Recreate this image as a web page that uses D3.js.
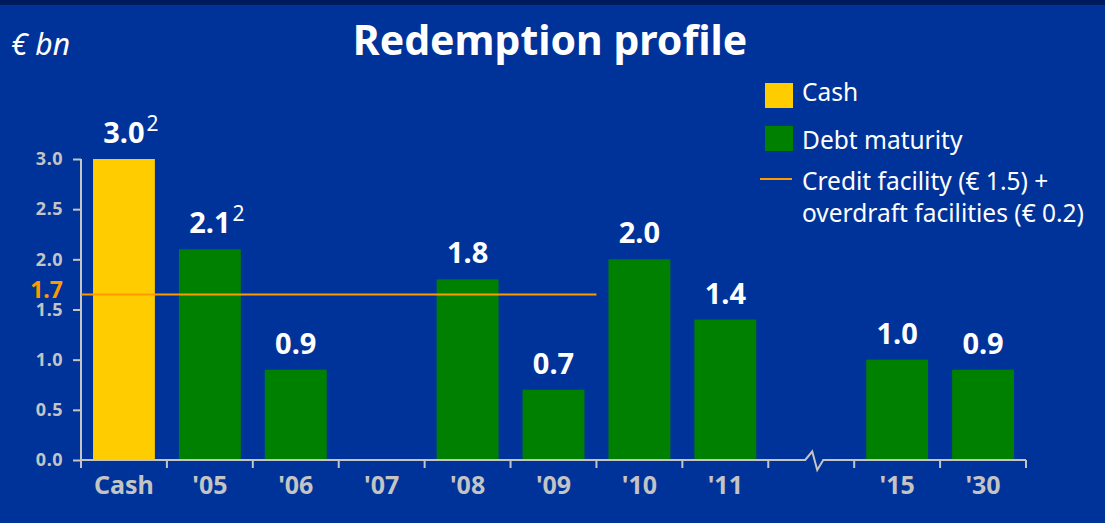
<!DOCTYPE html>
<html>
<head>
<meta charset="utf-8">
<script src="https://cdn.jsdelivr.net/npm/d3@7"></script>
<style>
  html, body { margin: 0; padding: 0; background: #003399; }
  svg { display: block; font-family: "Noto Sans", sans-serif; }
</style>
</head>
<body>
<svg id="chart"></svg>
<script>
// categories on the x axis ("gap" is the broken part of the axis)
const categories = ["Cash", "'05", "'06", "'07", "'08", "'09", "'10", "'11", "gap", "'15", "'30"];
const values = [3.0, 2.1, 0.9, null, 1.8, 0.7, 2.0, 1.4, null, 1.0, 0.9];
const seriesKind = ["cash", "debt", "debt", "debt", "debt", "debt", "debt", "debt", null, "debt", "debt"];
const footnotes = ["2", "2", "", "", "", "", "", "", "", "", ""];
const yTicks = [0, 0.5, 1.0, 1.5, 2.0, 2.5, 3.0];

// credit + overdraft facility line (drawn through the '09 column)
const facilityValue = 1.65;
const facilityLabel = "1.7";
const facilityEnd = "'10";

const legendLabels = ["Cash", "Debt maturity", "Credit facility (€ 1.5) +|overdraft facilities (€ 0.2)"];

const colors = {
  bg: "#003399",
  strip: "#001a5e",
  cash: "#ffcc00",
  debt: "#008000",
  facility: "#ff9900",
  axis: "#c4c4c4",
  text: "#ffffff"
};

const W = 1105, H = 523;
const svg = d3.select("#chart").attr("width", W).attr("height", H);

svg.append("rect").attr("width", W).attr("height", H).attr("fill", colors.bg);
svg.append("rect").attr("width", W).attr("height", 5).attr("fill", colors.strip);

// title + unit
svg.append("text")
  .attr("x", 550).attr("y", 55)
  .attr("text-anchor", "middle")
  .attr("font-size", 41).attr("font-weight", "bold")
  .attr("fill", colors.text)
  .text("Redemption profile");

svg.append("text")
  .attr("x", 11).attr("y", 55)
  .attr("font-size", 30).attr("font-style", "italic")
  .attr("fill", colors.text)
  .text("€ bn");

const x = d3.scaleBand()
  .domain(categories)
  .range([81, 1026])
  .paddingInner(0.28)
  .paddingOuter(0.14);

const y = d3.scaleLinear().domain([0, 3]).range([460, 159]);

const data = categories.map((c, i) => ({
  cat: c, value: values[i], kind: seriesKind[i], note: footnotes[i]
})).filter(d => d.value != null);

// bars
svg.append("g")
  .selectAll("rect")
  .data(data)
  .join("rect")
  .attr("x", d => x(d.cat))
  .attr("y", d => y(d.value))
  .attr("width", x.bandwidth())
  .attr("height", d => y(0) - y(d.value))
  .attr("fill", d => colors[d.kind]);

// value labels
const labels = svg.append("g")
  .selectAll("g")
  .data(data)
  .join("g");

labels.append("text")
  .attr("class", "val")
  .attr("x", d => x(d.cat) + x.bandwidth() / 2)
  .attr("y", d => y(d.value) - 16)
  .attr("text-anchor", "middle")
  .attr("font-size", 29).attr("font-weight", "bold")
  .attr("fill", colors.text)
  .text(d => d3.format(".1f")(d.value));

labels.filter(d => d.note)
  .append("text")
  .attr("x", function (d) {
    const w = this.parentNode.querySelector(".val").getComputedTextLength();
    return x(d.cat) + x.bandwidth() / 2 + w / 2 + 2;
  })
  .attr("y", d => y(d.value) - 28)
  .attr("font-size", 21)
  .attr("fill", colors.text)
  .text(d => d.note);

// y axis
const yAxis = svg.append("g")
  .attr("transform", "translate(81,0)")
  .call(d3.axisLeft(y).tickValues(yTicks).tickFormat(d3.format(".1f")).tickSize(8).tickPadding(10));
yAxis.select(".domain").remove();
yAxis.selectAll(".tick line").attr("stroke", colors.axis).attr("stroke-width", 2);
yAxis.selectAll(".tick text")
  .attr("fill", colors.axis)
  .attr("font-size", 18).attr("font-weight", "bold")
  .attr("font-family", "Noto Sans, sans-serif")
  .attr("letter-spacing", 0.5);

svg.append("line")
  .attr("x1", 81).attr("x2", 81)
  .attr("y1", y(3)).attr("y2", y(0) + 8)
  .attr("stroke", colors.axis).attr("stroke-width", 2);

// x axis: labels at band centres, ticks at band edges, zigzag break in the gap
const step = x.step();
const x0 = x.range()[0];
const edges = d3.range(categories.length + 1).map(i => x0 + i * step);

const xAxis = svg.append("g")
  .attr("transform", `translate(0,${y(0)})`)
  .call(d3.axisBottom(x).tickSize(0).tickPadding(16).tickFormat(d => d === "gap" ? "" : d));
xAxis.select(".domain").remove();
xAxis.selectAll(".tick text")
  .attr("fill", colors.axis)
  .attr("font-size", 25).attr("font-weight", "bold")
  .attr("font-family", "Noto Sans, sans-serif");

const gapMid = x("gap") + x.bandwidth() / 2 + 3;
const axisPath = d3.path();
axisPath.moveTo(x0, y(0));
axisPath.lineTo(gapMid - 9, y(0));
axisPath.lineTo(gapMid - 2, y(0) - 8.5);
axisPath.lineTo(gapMid + 3, y(0) + 10);
axisPath.lineTo(gapMid + 9, y(0));
axisPath.lineTo(edges[edges.length - 1], y(0));
svg.append("path")
  .attr("d", axisPath.toString())
  .attr("fill", "none")
  .attr("stroke", colors.axis).attr("stroke-width", 2)
  .attr("stroke-linejoin", "miter");

svg.append("g")
  .selectAll("line")
  .data(edges.slice(1))
  .join("line")
  .attr("x1", d => d).attr("x2", d => d)
  .attr("y1", y(0)).attr("y2", y(0) + 8)
  .attr("stroke", colors.axis).attr("stroke-width", 2);

// facility line
svg.append("line")
  .attr("x1", x0)
  .attr("x2", x(facilityEnd) - step * x.paddingInner() / 2)
  .attr("y1", y(facilityValue)).attr("y2", y(facilityValue))
  .attr("stroke", colors.facility).attr("stroke-width", 2);

svg.append("text")
  .attr("x", 63).attr("y", y(facilityValue) + 4)
  .attr("text-anchor", "end")
  .attr("font-size", 23).attr("font-weight", "bold")
  .attr("fill", colors.facility)
  .text(facilityLabel);

// legend
const legend = svg.append("g").attr("transform", "translate(765,0)");
const legendY = [101, 149, 190];

legend.append("rect").attr("x", 0).attr("y", 83).attr("width", 28).attr("height", 25).attr("fill", colors.cash);
legend.append("rect").attr("x", 0).attr("y", 126).attr("width", 28).attr("height", 25).attr("fill", colors.debt);
legend.append("line").attr("x1", -5).attr("x2", 27).attr("y1", 179).attr("y2", 179)
  .attr("stroke", colors.facility).attr("stroke-width", 2);

legendLabels.forEach((lab, i) => {
  const t = legend.append("text")
    .attr("x", 37).attr("y", legendY[i])
    .attr("font-size", 24.5)
    .attr("fill", colors.text);
  lab.split("|").forEach((line, j) => {
    t.append("tspan").attr("x", 37).attr("dy", j === 0 ? 0 : 32).text(line);
  });
});
</script>
</body>
</html>
